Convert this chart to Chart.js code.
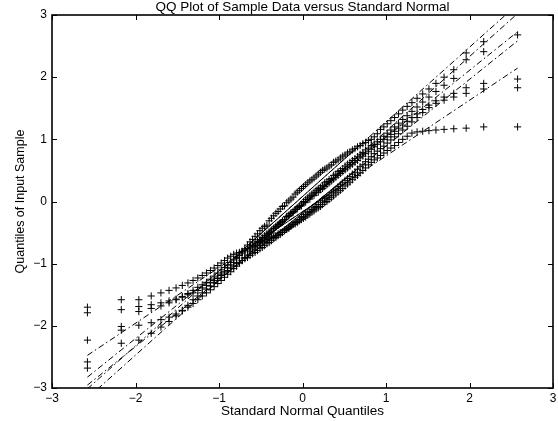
<!DOCTYPE html>
<html><head><meta charset="utf-8">
<script src="https://cdn.jsdelivr.net/npm/chart.js@4.4.0/dist/chart.umd.min.js"></script>
<style>html,body{margin:0;padding:0;background:#fff}#wrap{width:558px;height:421px}</style>
</head><body><div id="wrap"><canvas id="c" width="558" height="421"></canvas></div>
<script>
const titleText = 'QQ Plot of Sample Data versus Standard Normal';
const xLabel = 'Standard Normal Quantiles';
const yLabel = 'Quantiles of Input Sample';
const tickValues = [-3, -2, -1, 0, 1, 2, 3];

// standard normal quantiles of the plotting positions (i-0.5)/100
const normalQuantiles = [
-2.5758,-2.1701,-1.9600,-1.8119,-1.6954,-1.5982,-1.5141,-1.4395,-1.3722,-1.3106,
-1.2536,-1.2004,-1.1503,-1.1031,-1.0581,-1.0152,-0.9741,-0.9346,-0.8965,-0.8596,
-0.8239,-0.7892,-0.7554,-0.7225,-0.6903,-0.6588,-0.6280,-0.5978,-0.5681,-0.5388,
-0.5101,-0.4817,-0.4538,-0.4261,-0.3989,-0.3719,-0.3451,-0.3186,-0.2924,-0.2663,
-0.2404,-0.2147,-0.1891,-0.1637,-0.1383,-0.1130,-0.0878,-0.0627,-0.0376,-0.0125,
0.0125,0.0376,0.0627,0.0878,0.1130,0.1383,0.1637,0.1891,0.2147,0.2404,
0.2663,0.2924,0.3186,0.3451,0.3719,0.3989,0.4261,0.4538,0.4817,0.5101,
0.5388,0.5681,0.5978,0.6280,0.6588,0.6903,0.7225,0.7554,0.7892,0.8239,
0.8596,0.8965,0.9346,0.9741,1.0152,1.0581,1.1031,1.1503,1.2004,1.2536,
1.3106,1.3722,1.4395,1.5141,1.5982,1.6954,1.8119,1.9600,2.1701,2.5758];

const sample1 = [
-2.68,-2.28,-2.23,-2.12,-2.02,-1.93,-1.84,-1.76,-1.67,-1.58,-1.52,-1.47,-1.41,-1.36,-1.30,-1.24,-1.18,-1.13,-1.07,-1.02,
-0.98,-0.92,-0.87,-0.81,-0.76,-0.70,-0.65,-0.61,-0.56,-0.52,-0.47,-0.43,-0.40,-0.38,-0.31,-0.27,-0.23,-0.19,-0.16,-0.12,
-0.08,-0.07,-0.02,0.01,0.04,0.07,0.12,0.15,0.18,0.21,
0.24,0.27,0.30,0.33,0.35,0.38,0.41,0.44,0.47,0.50,0.52,0.54,0.57,0.59,0.63,0.65,0.67,0.70,0.73,0.75,
0.78,0.80,0.83,0.85,0.88,0.90,0.93,0.95,0.98,1.00,1.04,1.09,1.16,1.20,1.25,1.30,1.35,1.41,1.47,1.53,
1.59,1.66,1.73,1.81,1.90,2.00,2.12,2.39,2.57,3.30];
const sample2 = [
-2.58,-2.07,-1.99,-1.95,-1.90,-1.86,-1.81,-1.75,-1.70,-1.64,-1.58,-1.52,-1.47,-1.42,-1.37,-1.32,-1.27,-1.22,-1.17,-1.13,
-1.08,-1.04,-0.99,-0.95,-0.90,-0.86,-0.81,-0.78,-0.73,-0.70,-0.66,-0.63,-0.59,-0.55,-0.52,-0.49,-0.44,-0.41,-0.38,-0.35,
-0.32,-0.29,-0.25,-0.22,-0.19,-0.16,-0.13,-0.10,-0.07,-0.04,
0.00,0.03,0.06,0.09,0.12,0.15,0.18,0.21,0.23,0.26,0.30,0.32,0.35,0.37,0.42,0.44,0.48,0.50,0.53,0.57,
0.60,0.63,0.66,0.69,0.72,0.76,0.79,0.83,0.86,0.90,0.92,0.96,1.00,1.05,1.10,1.15,1.20,1.26,1.32,1.38,
1.45,1.52,1.60,1.68,1.77,1.87,1.98,2.28,2.41,2.68];
const sample3 = [
-2.23,-2.01,-1.77,-1.72,-1.68,-1.63,-1.58,-1.53,-1.48,-1.43,-1.38,-1.34,-1.30,-1.25,-1.20,-1.15,-1.10,-1.06,-1.02,-0.98,
-0.94,-0.90,-0.86,-0.83,-0.79,-0.76,-0.73,-0.70,-0.67,-0.64,-0.61,-0.58,-0.55,-0.52,-0.49,-0.46,-0.43,-0.40,-0.37,-0.34,
-0.31,-0.29,-0.24,-0.23,-0.19,-0.18,-0.13,-0.12,-0.08,-0.07,
-0.02,-0.01,0.03,0.04,0.09,0.10,0.14,0.15,0.19,0.21,0.24,0.27,0.30,0.33,0.36,0.39,0.42,0.45,0.48,0.51,
0.54,0.57,0.60,0.63,0.66,0.70,0.73,0.77,0.80,0.84,0.88,0.92,0.96,1.00,1.04,1.08,1.13,1.18,1.23,1.29,
1.35,1.41,1.48,1.55,1.62,1.68,1.74,1.83,1.90,1.97];
const sample4 = [
-1.79,-1.74,-1.69,-1.66,-1.63,-1.60,-1.57,-1.54,-1.50,-1.47,-1.43,-1.39,-1.35,-1.31,-1.27,-1.23,-1.19,-1.15,-1.11,-1.07,
-1.04,-1.00,-0.98,-0.95,-0.92,-0.90,-0.87,-0.84,-0.82,-0.79,-0.76,-0.74,-0.71,-0.68,-0.66,-0.63,-0.60,-0.58,-0.55,-0.53,
-0.50,-0.47,-0.45,-0.43,-0.40,-0.37,-0.34,-0.32,-0.29,-0.26,
-0.24,-0.21,-0.18,-0.16,-0.13,-0.10,-0.08,-0.05,-0.01,0.02,0.05,0.07,0.10,0.14,0.17,0.20,0.24,0.27,0.30,0.34,
0.37,0.40,0.44,0.47,0.52,0.56,0.59,0.64,0.68,0.72,0.77,0.81,0.85,0.89,0.94,0.99,1.04,1.09,1.15,1.21,
1.28,1.35,1.43,1.51,1.58,1.63,1.68,1.74,1.81,1.83];
const sample5 = [
-1.70,-1.58,-1.58,-1.52,-1.47,-1.43,-1.39,-1.35,-1.31,-1.27,-1.23,-1.19,-1.15,-1.11,-1.07,-1.03,-0.99,-0.95,-0.91,-0.88,
-0.85,-0.83,-0.82,-0.80,-0.78,-0.76,-0.75,-0.73,-0.71,-0.70,-0.67,-0.65,-0.64,-0.61,-0.60,-0.58,-0.56,-0.55,-0.52,-0.50,
-0.49,-0.46,-0.44,-0.42,-0.39,-0.37,-0.36,-0.34,-0.31,-0.29,
-0.27,-0.25,-0.22,-0.20,-0.17,-0.15,-0.12,-0.10,-0.08,-0.05,-0.02,0.00,0.03,0.06,0.09,0.12,0.15,0.18,0.21,0.25,
0.28,0.31,0.35,0.39,0.42,0.46,0.50,0.54,0.59,0.63,0.67,0.70,0.74,0.78,0.82,0.86,0.90,0.95,1.00,1.05,
1.10,1.12,1.13,1.14,1.15,1.16,1.17,1.18,1.20,1.20];

const samples = [sample1, sample2, sample3, sample4, sample5];

// MATLAB-style percentile on sorted data
function prct(a, p) {
  const n = a.length;
  const pos = n * p + 0.5; // 1-based
  const lo = Math.floor(pos), hi = Math.ceil(pos);
  const f = pos - lo;
  return a[lo - 1] * (1 - f) + a[hi - 1] * f;
}

const datasets = [];
samples.forEach(s => {
  datasets.push({
    data: normalQuantiles.map((x, i) => ({x: x, y: s[i]})),
    pointStyle: 'cross', pointRadius: 3.6, pointBorderWidth: 1,
    borderColor: '#000', backgroundColor: '#000', showLine: false, order: 2
  });
});
samples.forEach(s => {
  const q1x = prct(normalQuantiles, 0.25), q3x = prct(normalQuantiles, 0.75);
  const q1y = prct(s, 0.25), q3y = prct(s, 0.75);
  const slope = (q3y - q1y) / (q3x - q1x);
  const xmin = normalQuantiles[0], xmax = normalQuantiles[normalQuantiles.length - 1];
  const f = x => q1y + slope * (x - q1x);
  datasets.push({
    data: [{x: xmin, y: f(xmin)}, {x: xmax, y: f(xmax)}],
    showLine: true, pointRadius: 0, borderColor: '#000', borderWidth: 1,
    borderDash: [6, 3, 1.5, 3], order: 1
  });
  datasets.push({
    data: [{x: q1x, y: q1y}, {x: q3x, y: q3y}],
    showLine: true, pointRadius: 0, borderColor: '#000', borderWidth: 1, order: 1
  });
});

const minus = v => (v < 0 ? '\u2212' + Math.abs(v) : String(v));

const framePlugin = {
  id: 'frame',
  afterDatasetsDraw(chart) {
    const {ctx, chartArea: a, scales: {x, y}} = chart;
    ctx.save();
    ctx.strokeStyle = '#000';
    ctx.lineWidth = 1;
    ctx.beginPath();
    tickValues.forEach(v => {
      const px = Math.round(x.getPixelForValue(v)) + 0.5;
      ctx.moveTo(px, a.bottom); ctx.lineTo(px, a.bottom - 5);
      ctx.moveTo(px, a.top); ctx.lineTo(px, a.top + 5);
      const py = Math.round(y.getPixelForValue(v)) + 0.5;
      ctx.moveTo(a.left, py); ctx.lineTo(a.left + 5, py);
      ctx.moveTo(a.right, py); ctx.lineTo(a.right - 5, py);
    });
    ctx.stroke();
    ctx.lineWidth = 1.6;
    ctx.strokeRect(a.left, a.top, a.right - a.left, a.bottom - a.top);
    ctx.restore();
  }
};

const FONT = '"Liberation Sans", Arial, sans-serif';
new Chart(document.getElementById('c'), {
  type: 'scatter',
  data: {datasets},
  options: {
    responsive: false, animation: false, devicePixelRatio: 1,
    layout: {padding: {left: 0, right: 1, top: 0, bottom: 0}},
    plugins: {
      legend: {display: false}, tooltip: {enabled: false},
      title: {display: true, text: titleText, fullSize: false, color: '#000',
        font: {family: FONT, size: 13.5, weight: 'normal', lineHeight: 1},
        padding: {top: 1, bottom: 0.5}}
    },
    scales: {
      x: {
        type: 'linear', min: -3, max: 3,
        grid: {display: false, drawTicks: false}, border: {display: false},
        ticks: {stepSize: 1, color: '#000', padding: 3, callback: v => minus(v),
          font: {family: FONT, size: 12}},
        title: {display: true, text: xLabel, color: '#000', padding: {top: 0, bottom: 1.5},
          font: {family: FONT, size: 13.5}},
        afterFit: s => { s.height = 33; s.paddingLeft = 0; s.paddingRight = 0; }
      },
      y: {
        type: 'linear', min: -3, max: 3,
        grid: {display: false, drawTicks: false}, border: {display: false},
        ticks: {stepSize: 1, color: '#000', padding: 5, callback: v => minus(v),
          font: {family: FONT, size: 12}},
        title: {display: true, text: yLabel, color: '#000', padding: {top: 13, bottom: 0},
          font: {family: FONT, size: 12.5}},
        afterFit: s => { s.width = 52; s.paddingTop = 0; s.paddingBottom = 0; }
      }
    }
  },
  plugins: [framePlugin]
});
</script>
</body></html>
